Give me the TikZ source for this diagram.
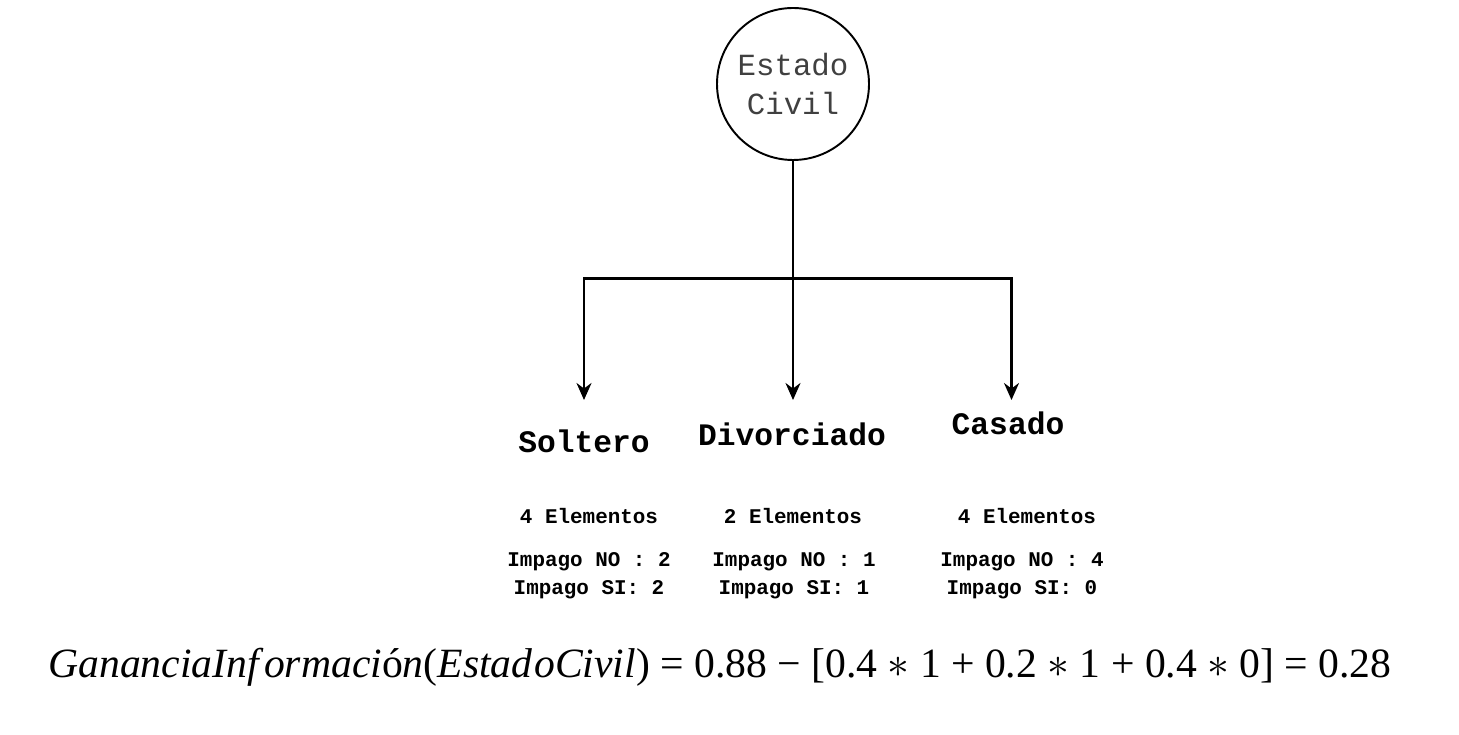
\documentclass[tikz,border=0pt]{standalone}
\usepackage{fontspec}
\setmonofont{Liberation Mono}
\newfontfamily\formulafont{Liberation Serif}
\usetikzlibrary{arrows.meta}

\begin{document}
\begin{tikzpicture}[
		root/.style={circle, draw, line width=1.1pt, minimum size=3.04cm, align=center,
			font=\ttfamily\fontsize{17.5}{22.5}\selectfont, text=black!75},
		branch/.style={font=\ttfamily\bfseries\fontsize{17.8}{21}\selectfont},
		counts/.style={font=\ttfamily\bfseries\fontsize{11.9}{15.9}\selectfont, align=center},
		>={Stealth[length=0.34cm, width=0.3cm]}
	]
	\useasboundingbox (0,0) rectangle (29.18,-14.7);

	% root of the tree
	\node[root] (root) at (15.86,-1.68) {Estado\\Civil};

	% where the lines split and where the arrows stop
	\coordinate (split) at (15.86,-5.57);
	\coordinate (tipS) at (11.68,-8.0);
	\coordinate (tipD) at (15.86,-8.0);
	\coordinate (tipC) at (20.23,-8.0);

	\draw[->, line width=1.2pt] (root.south) -- (tipD);
	\draw[->, line width=1.2pt] (split) -| (tipS);
	\draw[->, line width=1.2pt] (split) -| (tipC);

	% branches
	\node[branch] (soltero) at (11.68,-8.82) {Soltero};
	\node[branch] (divorciado) at (15.84,-8.68) {Divorciado};
	\node[branch] (casado) at (20.16,-8.46) {Casado};

	\node[counts] (nS) at (11.78,-10.32) {4 Elementos};
	\node[counts] (nD) at (15.86,-10.32) {2 Elementos};
	\node[counts] (nC) at (20.54,-10.32) {4 Elementos};

	\node[counts] (iS) at (11.78,-11.52) {Impago NO : 2\\Impago SI: 2};
	\node[counts] (iD) at (15.88,-11.52) {Impago NO : 1\\Impago SI: 1};
	\node[counts] (iC) at (20.44,-11.52) {Impago NO : 4\\Impago SI: 0};

	% information gain
	\node[font=\formulafont\fontsize{23.7}{28}\selectfont] (gain) at (14.4,-13.34)
		{\textit{GananciaInf\kern3pt ormaci}ó\textit{n}(\textit{Estad\kern1pt oCivil}) = 0.88 − [0.4 $\ast$ 1 + 0.2 $\ast$ 1 + 0.4 $\ast$ 0] = 0.28};
\end{tikzpicture}
\end{document}
